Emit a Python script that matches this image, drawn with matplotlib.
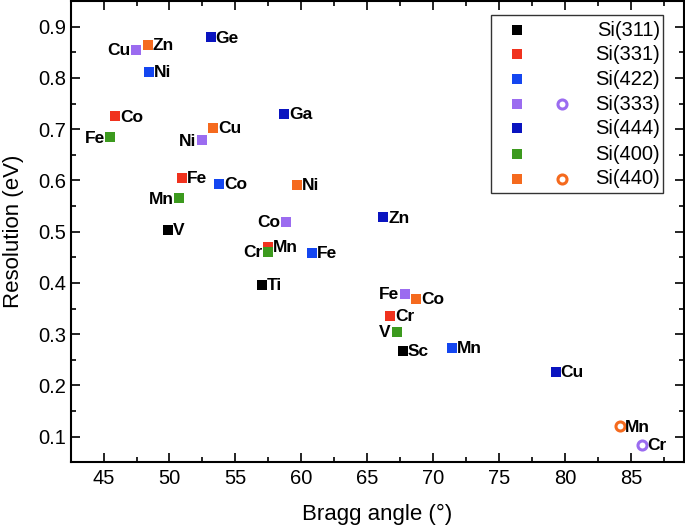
import matplotlib.pyplot as plt
from matplotlib.ticker import MultipleLocator
from matplotlib.patches import Rectangle

plt.rcParams['font.family'] = ['Liberation Sans', 'DejaVu Sans']

# Bragg angle (deg), resolution (eV), element for each analyser crystal
si311_angle = [49.85, 56.99, 67.71]
si311_res = [0.504, 0.396, 0.268]
si311_el = ['V', 'Ti', 'Sc']

si331_angle = [45.89, 50.96, 57.49, 66.73]
si331_res = [0.725, 0.605, 0.471, 0.335]
si331_el = ['Co', 'Fe', 'Mn', 'Cr']

si422_angle = [48.41, 53.78, 60.82, 71.40]
si422_res = [0.811, 0.593, 0.459, 0.273]
si422_el = ['Ni', 'Co', 'Fe', 'Mn']

si333_angle = [47.48, 52.47, 58.80, 67.84]
si333_res = [0.855, 0.678, 0.519, 0.379]
si333_el = ['Cu', 'Ni', 'Co', 'Fe']
si333_open_angle = [85.83]
si333_open_res = [0.0845]
si333_open_el = ['Cr']

si444_angle = [53.13, 58.70, 66.20, 79.29]
si444_res = [0.879, 0.730, 0.528, 0.226]
si444_el = ['Ge', 'Ga', 'Zn', 'Cu']

si400_angle = [45.51, 50.73, 57.49, 67.21]
si400_res = [0.684, 0.565, 0.461, 0.304]
si400_el = ['Fe', 'Mn', 'Cr', 'V']

si440_angle = [48.36, 53.33, 59.69, 68.69]
si440_res = [0.864, 0.703, 0.591, 0.369]
si440_el = ['Zn', 'Cu', 'Ni', 'Co']
si440_open_angle = [84.14]
si440_open_res = [0.120]
si440_open_el = ['Mn']

names = ['Si(311)', 'Si(331)', 'Si(422)', 'Si(333)', 'Si(444)', 'Si(400)', 'Si(440)']
colors = ['#000000', '#f0321e', '#1446f0', '#9b6cf0', '#0a14c0', '#3c9a1e', '#f56a1e']

series = [
    (si311_angle, si311_res, si311_el),
    (si331_angle, si331_res, si331_el),
    (si422_angle, si422_res, si422_el),
    (si333_angle, si333_res, si333_el),
    (si444_angle, si444_res, si444_el),
    (si400_angle, si400_res, si400_el),
    (si440_angle, si440_res, si440_el),
]
open_series = {3: (si333_open_angle, si333_open_res, si333_open_el),
               6: (si440_open_angle, si440_open_res, si440_open_el)}

# labels that sit to the left of their marker
left_side = {('Si(333)', 'Cu'), ('Si(333)', 'Ni'), ('Si(333)', 'Co'), ('Si(333)', 'Fe'),
             ('Si(400)', 'Fe'), ('Si(400)', 'Mn'), ('Si(400)', 'Cr'), ('Si(400)', 'V')}

fig = plt.figure(figsize=(6.85, 5.25), dpi=100)
ax = fig.add_axes([0.103, 0.1194, 0.8955, 0.8786])

for i, (ang, res, el) in enumerate(series):
    ax.plot(ang, res, 's', color=colors[i], ms=7, mew=0, zorder=3)
    for a, r, e in zip(ang, res, el):
        if (names[i], e) in left_side:
            ax.annotate(e, (a, r), xytext=(-4, -0.5), textcoords='offset points',
                        ha='right', va='center', fontsize=12.5, fontweight='bold')
        else:
            ax.annotate(e, (a, r), xytext=(3.5, -0.5), textcoords='offset points',
                        ha='left', va='center', fontsize=12.5, fontweight='bold')

for i, (ang, res, el) in open_series.items():
    ax.plot(ang, res, 'o', mfc='white', mec=colors[i], ms=6.5, mew=2.2, zorder=3)
    for a, r, e in zip(ang, res, el):
        ax.annotate(e, (a, r), xytext=(3.5, -0.5), textcoords='offset points',
                    ha='left', va='center', fontsize=12.5, fontweight='bold')

ax.set_xlim(42.5, 89)
ax.set_ylim(0.05, 0.95)
ax.xaxis.set_major_locator(MultipleLocator(5))
ax.xaxis.set_minor_locator(MultipleLocator(2.5))
ax.yaxis.set_major_locator(MultipleLocator(0.1))
ax.yaxis.set_minor_locator(MultipleLocator(0.05))
ax.tick_params(which='both', direction='in', top=True, right=True, labelsize=14.5, width=1.2)
ax.tick_params(which='major', length=6.3)
ax.tick_params(which='minor', length=3.3)
ax.tick_params(axis='y', pad=3)
ax.tick_params(axis='x', pad=5)
for s in ax.spines.values():
    s.set_linewidth(1.5)
ax.set_xlabel('Bragg angle (°)', fontsize=16, labelpad=11)
ax.set_ylabel('Resolution (eV)', fontsize=16, labelpad=10)

# legend drawn by hand: square column, open-circle column, right aligned text
ax.add_patch(Rectangle((0.6853, 0.5844), 0.2809, 0.3853, transform=ax.transAxes,
                       fill=False, ec='#333333', lw=1, zorder=4))
row_y = [0.9371, 0.8845, 0.8309, 0.7767, 0.7240, 0.6683, 0.6148]
for i, name in enumerate(names):
    ax.plot([0.7271], [row_y[i]], 's', color=colors[i], ms=7, mew=0,
            transform=ax.transAxes, zorder=5)
    if i in open_series:
        ax.plot([0.8005], [row_y[i]], 'o', mfc='white', mec=colors[i], ms=6.5, mew=2.2,
                transform=ax.transAxes, zorder=5)
    ax.text(0.9608, row_y[i], name, transform=ax.transAxes, ha='right', va='center',
            fontsize=14.5, zorder=5)

fig.savefig('out.png', dpi=100)
